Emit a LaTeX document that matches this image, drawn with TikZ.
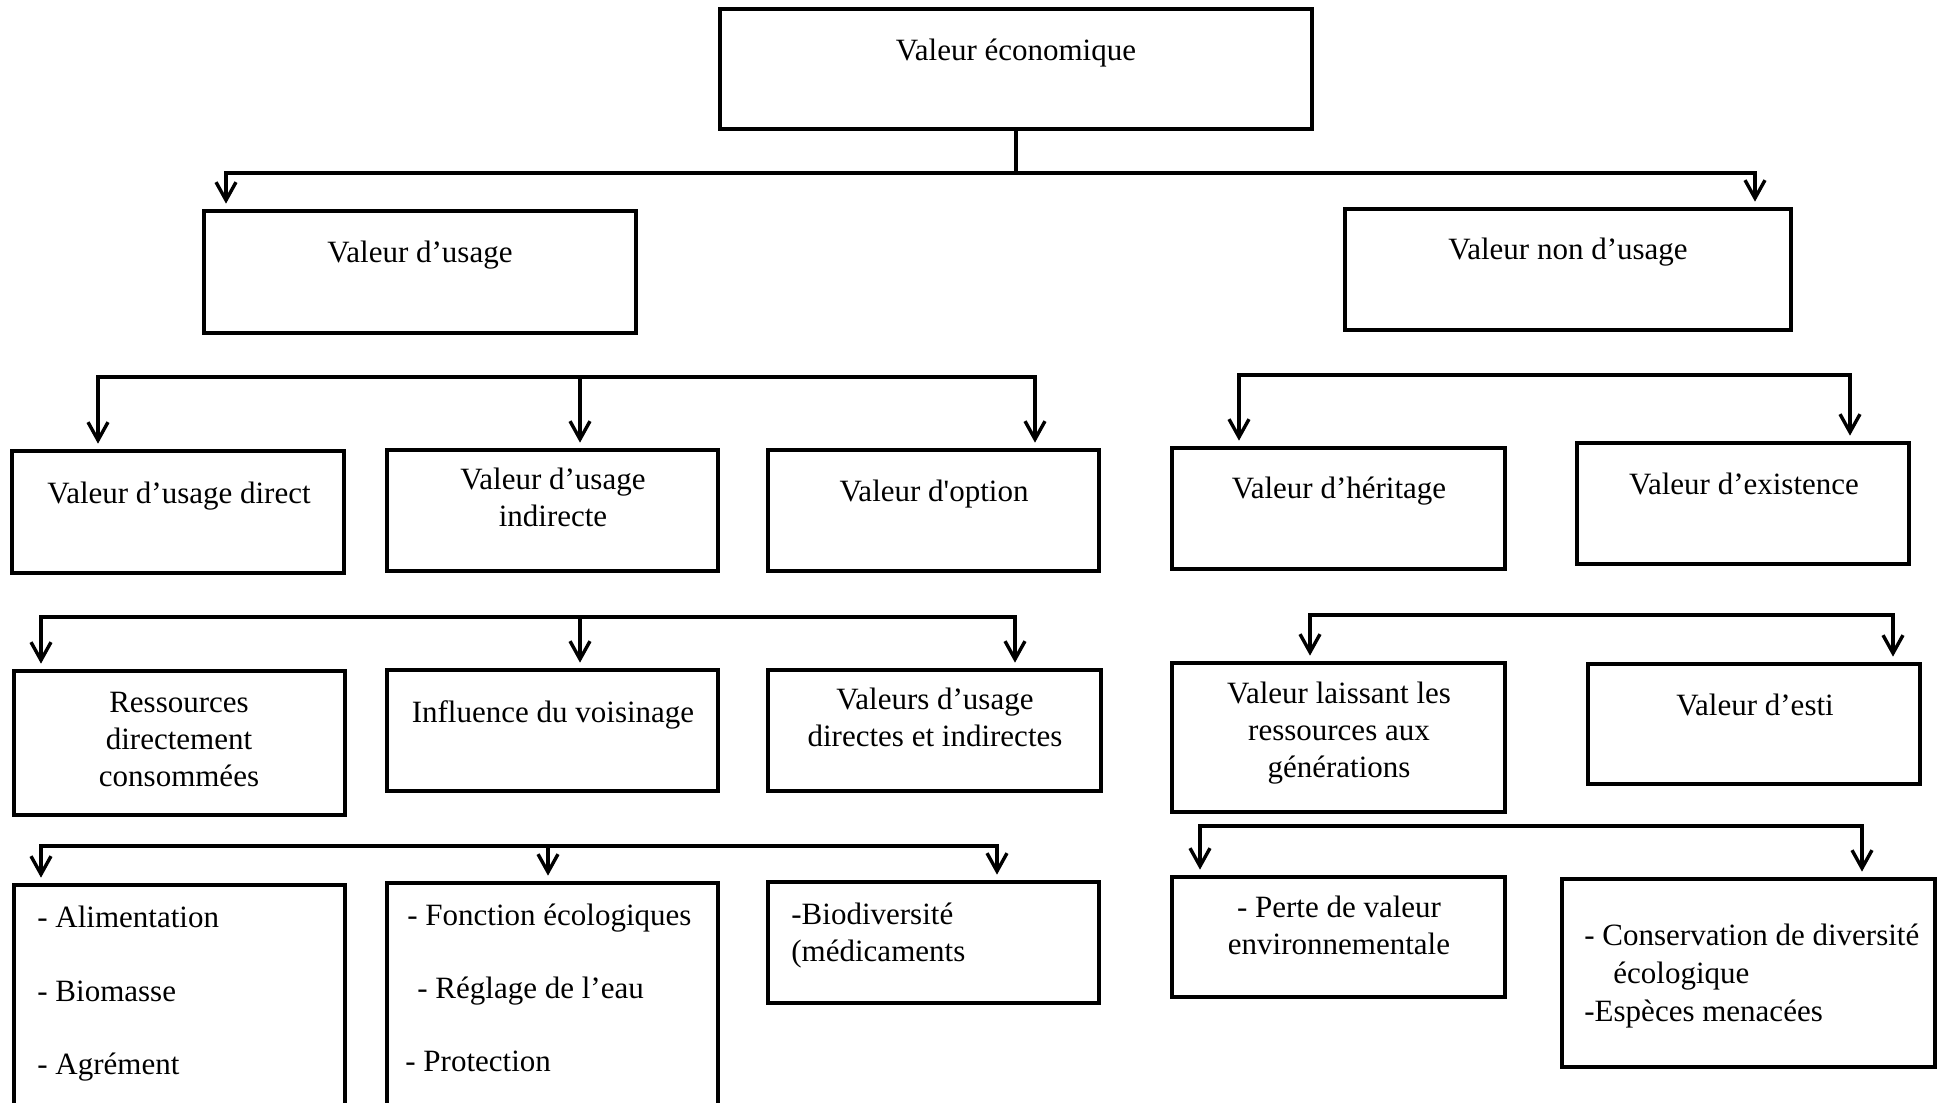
\documentclass[tikz,border=0pt]{standalone}
\usepackage{fontspec}
\setmainfont{Liberation Serif}[Ligatures=TeXOff]
\usetikzlibrary{arrows.meta}
\begin{document}
\begin{tikzpicture}[x=0.5pt,y=-0.5pt,
  box/.style={draw, line width=2.35pt, rectangle, inner sep=0pt},
  lbl/.style={font=\fontsize{15.5pt}{18.5pt}\selectfont, inner sep=0pt, anchor=base},
  lbll/.style={lbl, anchor=base west},
  conn/.style={line width=1.7pt, line join=miter},
  arr/.style={conn, -{Straight Barb[length=9pt,width=10pt]}, shorten >=2.5pt},
  darr/.style={conn, {Straight Barb[length=9pt,width=10pt]}-{Straight Barb[length=9pt,width=10pt]}, shorten >=2.5pt, shorten <=2.5pt}]
\useasboundingbox (0,0) rectangle (1939,1103);
\clip (0,0) rectangle (1939,1103);
\fill[white] (0,0) rectangle (1939,1103);

% ---- boxes ----
\node[box, minimum width=296pt, minimum height=60pt]   (eco)   at (1016,69) {};
\node[box, minimum width=216pt, minimum height=61pt]   (usage) at (420,272) {};
\node[box, minimum width=223pt, minimum height=60.5pt] (nonus) at (1568,269.5) {};

\node[box, minimum width=166pt, minimum height=61pt]   (direct) at (178,512) {};
\node[box, minimum width=165.5pt, minimum height=60.5pt] (indir) at (552.5,510.5) {};
\node[box, minimum width=165.5pt, minimum height=60.5pt] (option) at (933.5,510.5) {};
\node[box, minimum width=166.5pt, minimum height=60.5pt] (herit) at (1338.5,508.5) {};
\node[box, minimum width=166pt, minimum height=60.5pt] (exist) at (1743,503.5) {};

\node[box, minimum width=165.5pt, minimum height=72pt] (ress) at (179.5,743) {};
\node[box, minimum width=165.5pt, minimum height=60.5pt] (influ) at (552.5,730.5) {};
\node[box, minimum width=166.5pt, minimum height=60.5pt] (vdi) at (934.5,730.5) {};
\node[box, minimum width=166.5pt, minimum height=74.5pt] (laiss) at (1338.5,737.5) {};
\node[box, minimum width=166pt, minimum height=60pt] (esti) at (1754,724) {};

\node[box, minimum width=165.5pt, minimum height=127.5pt] (alim) at (179.5,1012.5) {};
\node[box, minimum width=165.5pt, minimum height=128.5pt] (fonct) at (552.5,1011.5) {};
\node[box, minimum width=165.5pt, minimum height=60.5pt] (biod) at (933.5,942.5) {};
\node[box, minimum width=166.5pt, minimum height=60pt] (perte) at (1338.5,937) {};
\node[box, minimum width=186.5pt, minimum height=94pt] (conserv) at (1748.5,973) {};

% ---- texts ----
\node[lbl] (eco-t) at (1016,61) {Valeur économique};
\node[lbl] (usage-t) at (420,262) {Valeur d’usage};
\node[lbl] (nonus-t) at (1568,259) {Valeur non d’usage};

\node[lbl] (direct-t) at (179,503) {Valeur d’usage direct};
\node[lbl, align=center] (indir-t) at (553,526) {Valeur d’usage\\indirecte};
\node[lbl] (option-t) at (934,501) {Valeur d'option};
\node[lbl] (herit-t) at (1339,498) {Valeur d’héritage};
\node[lbl] (exist-t) at (1744,494) {Valeur d’existence};

\node[lbl, align=center] (ress-t) at (179,786) {Ressources\\directement\\consommées};
\node[lbl] (influ-t) at (553,722) {Influence du voisinage};
\node[lbl, align=center] (vdi-t) at (935,746) {Valeurs d’usage\\directes et indirectes};
\node[lbl, align=center] (laiss-t) at (1339,777) {Valeur laissant les\\ressources aux\\générations};
\node[lbl] (esti-t) at (1755,715) {Valeur d’esti};

\node[lbll] (alim-t1) at (37,927) {- Alimentation};
\node[lbll] (alim-t2) at (37,1001) {- Biomasse};
\node[lbll] (alim-t3) at (37,1074) {- Agrément};
\node[lbll] (fonct-t1) at (407,925) {- Fonction écologiques};
\node[lbll] (fonct-t2) at (417,998) {- Réglage de l’eau};
\node[lbll] (fonct-t3) at (405,1071) {- Protection};
\node[lbll] (biod-t1) at (791,924) {-Biodiversité};
\node[lbll] (biod-t2) at (791,961) {(médicaments};
\node[lbl, align=center] (perte-t) at (1339,954) {- Perte de valeur\\environnementale};
\node[lbll] (cons-t1) at (1584,945) {- Conservation de diversité};
\node[lbll] (cons-t2) at (1613,983) {écologique};
\node[lbll] (cons-t3) at (1584,1021) {-Espèces menacées};

% ---- connectors ----
\coordinate (b0l) at (226,173);
\coordinate (b0r) at (1755,173);
\draw[conn] (eco.south) -- (eco.south |- b0l);
\draw[darr] (b0l |- usage.north) -- (b0l) -- (b0r) -- (b0r |- nonus.north);

\coordinate (b1l) at (98,377);
\coordinate (b1m) at (580,377);
\coordinate (b1r) at (1035,377);
\draw[darr] (b1l |- direct.north) -- (b1l) -- (b1r) -- (b1r |- option.north);
\draw[arr] (b1m) -- (b1m |- indir.north);

\coordinate (b2l) at (1239,375);
\coordinate (b2r) at (1850,375);
\draw[darr] (b2l |- herit.north) -- (b2l) -- (b2r) -- (b2r |- exist.north);

\coordinate (b3l) at (41,617);
\coordinate (b3m) at (580,617);
\coordinate (b3r) at (1015,617);
\draw[darr] (b3l |- ress.north) -- (b3l) -- (b3r) -- (b3r |- vdi.north);
\draw[arr] (b3m) -- (b3m |- influ.north);

\coordinate (b4l) at (1310,615);
\coordinate (b4r) at (1893,615);
\draw[darr] (b4l |- laiss.north) -- (b4l) -- (b4r) -- (b4r |- esti.north);

\coordinate (b5l) at (41,846);
\coordinate (b5m) at (548,846);
\coordinate (b5r) at (997,846);
\draw[darr] (b5l |- alim.north) -- (b5l) -- (b5r) -- (b5r |- biod.north);
\draw[arr] (b5m) -- (b5m |- fonct.north);

\coordinate (b6l) at (1200,826);
\coordinate (b6r) at (1862,826);
\draw[darr] (b6l |- perte.north) -- (b6l) -- (b6r) -- (b6r |- conserv.north);
\end{tikzpicture}
\end{document}
